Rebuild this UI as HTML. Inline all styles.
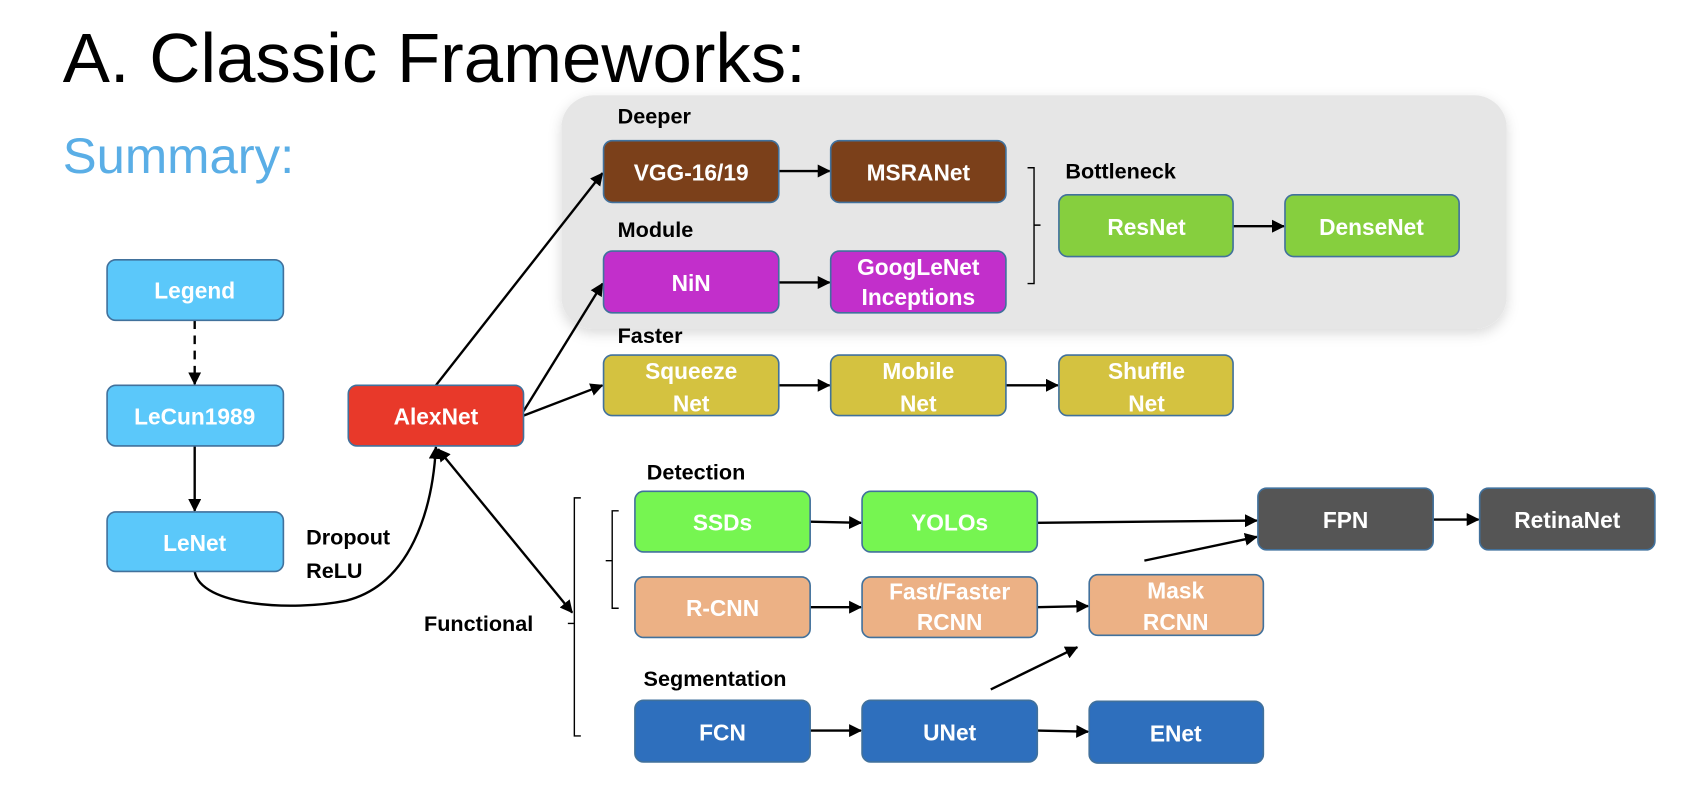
<!DOCTYPE html>
<html><head><meta charset="utf-8"><style>
html,body{margin:0;padding:0;background:#fff;width:1696px;height:802px;overflow:hidden}
svg{display:block}
text{font-family:"Liberation Sans",sans-serif}
.b{font-weight:bold;font-size:21px;fill:#fff;text-anchor:middle}
.l{font-weight:bold;font-size:20px;fill:#000}
</style></head><body>
<svg width="1696" height="802" viewBox="0 0 1568 741" preserveAspectRatio="none" xmlns="http://www.w3.org/2000/svg">
<defs>
<marker id="a" markerWidth="12" markerHeight="12" refX="11" refY="6" orient="auto" markerUnits="userSpaceOnUse"><path d="M0,0 L12,6 L0,12 z" fill="#000"/></marker>
<marker id="as" markerWidth="12" markerHeight="12" refX="1" refY="6" orient="auto" markerUnits="userSpaceOnUse"><path d="M12,0 L0,6 L12,12 z" fill="#000"/></marker>
<filter id="sh" x="-5%" y="-10%" width="110%" height="125%"><feDropShadow dx="0" dy="4" stdDeviation="6" flood-color="#000" flood-opacity="0.15"/></filter>
</defs>
<text x="58" y="76" font-size="64" fill="#000" textLength="687" lengthAdjust="spacingAndGlyphs">A. Classic Frameworks:</text>
<text x="58" y="160" font-size="46" fill="#5aaee6" textLength="214" lengthAdjust="spacingAndGlyphs">Summary:</text>
<rect x="519" y="88" width="874" height="216" rx="30" fill="#e6e6e6" filter="url(#sh)"/>
<g class="l">
<text x="571" y="114">Deeper</text>
<text x="571" y="219">Module</text>
<text x="571" y="317">Faster</text>
<text x="985" y="165">Bottleneck</text>
<text x="598" y="443">Detection</text>
<text x="595" y="634">Segmentation</text>
<text x="392" y="583">Functional</text>
<text x="283" y="503">Dropout</text>
<text x="283" y="534">ReLU</text>
</g>
<g stroke="#000" stroke-width="2.2" fill="none">
<line x1="180" y1="296" x2="180" y2="355" stroke-dasharray="8,6" marker-end="url(#a)"/>
<line x1="180" y1="412" x2="180" y2="472" marker-end="url(#a)"/>
<path d="M180,528 C185,560 270,565 320,555 C380,540 400,470 403,413" marker-end="url(#a)"/>
<line x1="403" y1="356" x2="557" y2="160" marker-end="url(#a)"/>
<line x1="484" y1="380" x2="557" y2="262" marker-end="url(#a)"/>
<line x1="484" y1="384" x2="557" y2="356" marker-end="url(#a)"/>
<line x1="405" y1="415" x2="529" y2="566" marker-end="url(#a)" marker-start="url(#as)"/>
<line x1="720" y1="158" x2="767" y2="158" marker-end="url(#a)"/>
<line x1="720" y1="261" x2="767" y2="261" marker-end="url(#a)"/>
<line x1="1140" y1="209" x2="1187" y2="209" marker-end="url(#a)"/>
<line x1="720" y1="356" x2="767" y2="356" marker-end="url(#a)"/>
<line x1="930" y1="356" x2="978" y2="356" marker-end="url(#a)"/>
<line x1="749" y1="482" x2="796" y2="483" marker-end="url(#a)"/>
<line x1="959" y1="483" x2="1162" y2="481" marker-end="url(#a)"/>
<line x1="1325" y1="480" x2="1367" y2="480" marker-end="url(#a)"/>
<line x1="1058" y1="518" x2="1162" y2="496" marker-end="url(#a)"/>
<line x1="749" y1="561" x2="796" y2="561" marker-end="url(#a)"/>
<line x1="959" y1="561" x2="1006" y2="560" marker-end="url(#a)"/>
<line x1="916" y1="637" x2="996" y2="598" marker-end="url(#a)"/>
<line x1="749" y1="675" x2="796" y2="675" marker-end="url(#a)"/>
<line x1="959" y1="675" x2="1006" y2="676" marker-end="url(#a)"/>
</g>
<g stroke="#000" stroke-width="1.3" fill="none">
<path d="M950,155 H956 V262 H950 M956,208 H962"/>
<path d="M537,460 H531 V680 H537 M531,576 H525"/>
<path d="M572,472 H566 V562 H572 M566,518 H560"/>
</g>
<g stroke="#41719c" stroke-width="1.5">
<rect x="99" y="240" width="163" height="56" rx="8" fill="#5bc8fa"/>
<rect x="99" y="356" width="163" height="56" rx="8" fill="#5bc8fa"/>
<rect x="99" y="473" width="163" height="55" rx="8" fill="#5bc8fa"/>
<rect x="322" y="356" width="162" height="56" rx="8" fill="#e8392a"/>
<rect x="558" y="130" width="162" height="57" rx="8" fill="#7b401a"/>
<rect x="768" y="130" width="162" height="57" rx="8" fill="#7b401a"/>
<rect x="558" y="232" width="162" height="57" rx="8" fill="#c22fcb"/>
<rect x="768" y="232" width="162" height="57" rx="8" fill="#c22fcb"/>
<rect x="979" y="180" width="161" height="57" rx="8" fill="#86cf3e"/>
<rect x="1188" y="180" width="161" height="57" rx="8" fill="#86cf3e"/>
<rect x="558" y="328" width="162" height="56" rx="8" fill="#d4c240"/>
<rect x="768" y="328" width="162" height="56" rx="8" fill="#d4c240"/>
<rect x="979" y="328" width="161" height="56" rx="8" fill="#d4c240"/>
<rect x="587" y="454" width="162" height="56" rx="8" fill="#76f551"/>
<rect x="797" y="454" width="162" height="56" rx="8" fill="#76f551"/>
<rect x="1163" y="451" width="162" height="57" rx="8" fill="#555555"/>
<rect x="1368" y="451" width="162" height="57" rx="8" fill="#555555"/>
<rect x="587" y="533" width="162" height="56" rx="8" fill="#ecb185"/>
<rect x="797" y="533" width="162" height="56" rx="8" fill="#ecb185"/>
<rect x="1007" y="531" width="161" height="56" rx="8" fill="#ecb185"/>
<rect x="587" y="647" width="162" height="57" rx="8" fill="#2e6fbd"/>
<rect x="797" y="647" width="162" height="57" rx="8" fill="#2e6fbd"/>
<rect x="1007" y="648" width="161" height="57" rx="8" fill="#2e6fbd"/>
</g>
<g class="b">
<text x="180" y="276">Legend</text>
<text x="180" y="392">LeCun1989</text>
<text x="180" y="509">LeNet</text>
<text x="403" y="392">AlexNet</text>
<text x="639" y="167">VGG-16/19</text>
<text x="849" y="167">MSRANet</text>
<text x="639" y="269">NiN</text>
<text x="849" y="254">GoogLeNet</text>
<text x="849" y="282">Inceptions</text>
<text x="1060" y="217">ResNet</text>
<text x="1268" y="217">DenseNet</text>
<text x="639" y="350">Squeeze</text>
<text x="639" y="380">Net</text>
<text x="849" y="350">Mobile</text>
<text x="849" y="380">Net</text>
<text x="1060" y="350">Shuffle</text>
<text x="1060" y="380">Net</text>
<text x="668" y="490">SSDs</text>
<text x="878" y="490">YOLOs</text>
<text x="1244" y="488">FPN</text>
<text x="1449" y="488">RetinaNet</text>
<text x="668" y="569">R-CNN</text>
<text x="878" y="554">Fast/Faster</text>
<text x="878" y="582">RCNN</text>
<text x="1087" y="553">Mask</text>
<text x="1087" y="582">RCNN</text>
<text x="668" y="684">FCN</text>
<text x="878" y="684">UNet</text>
<text x="1087" y="685">ENet</text>
</g>
</svg>
</body></html>
